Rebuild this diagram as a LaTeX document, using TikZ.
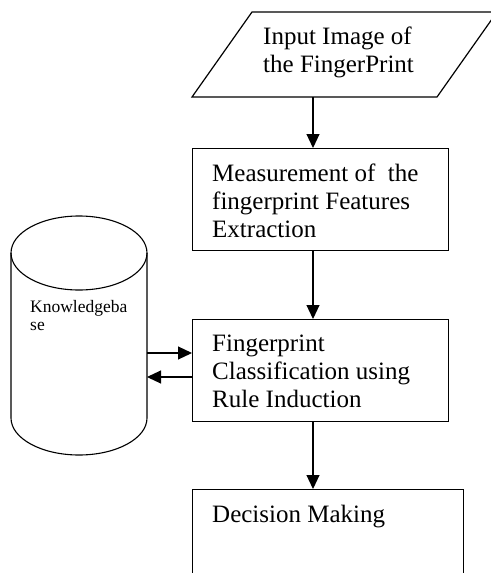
\documentclass[tikz,border=0pt]{standalone}
\usepackage{fontspec}
\setmainfont{Liberation Serif}
\usetikzlibrary{positioning, arrows.meta, calc}

\begin{document}
\begin{tikzpicture}[x=1pt, y=-1pt,
    box/.style={draw, line width=1.2pt, anchor=north west, inner sep=0pt},
    boxtext/.style={anchor=base west, align=left, inner sep=0pt, font=\fontsize{25}{28}\selectfont},
    flow/.style={line width=1.1pt, -{Triangle[length=14pt, width=13pt]}}]
    \useasboundingbox (0,0) rectangle (490,573);

    % input of the fingerprint (parallelogram runs off the right edge)
    \draw[line width=1.2pt] (192,97) -- (252,12) -- (497,12) -- (437,97) -- cycle;
    \coordinate (inbase) at (313,97);
    \node[boxtext] (inp) at (263,72) {Input Image of\\the FingerPrint};

    % processing steps (text placed by its last baseline)
    \node[box, minimum width=256pt, minimum height=102pt] (measure) at (192,148) {};
    \node[boxtext] (measuretxt) at (212,237) {Measurement of\ \ the\\fingerprint Features\\Extraction};

    \node[box, minimum width=256pt, minimum height=102pt] (classify) at (192,319) {};
    \node[boxtext] (classifytxt) at (212,407) {Fingerprint\\Classification using\\Rule Induction};

    \node[box, minimum width=271pt, minimum height=110pt] (decide) at (192,489) {};
    \node[boxtext] (decidetxt) at (212,522) {Decision Making};

    % knowledgebase cylinder
    \draw[line width=1.1pt] (11,253) -- (11,418) arc[start angle=180, end angle=0, x radius=68, y radius=37] -- (147,253);
    \draw[line width=1.1pt] (79,253) ellipse[x radius=68, y radius=37];
    \coordinate (kbside) at (147,365);
    \node[anchor=base west, align=left, inner sep=0pt, font=\fontsize{17.5}{18}\selectfont] (kb) at (30,330) {Knowledgeba\\se};

    % connectors
    \draw[flow] (inbase) -- (inbase |- measure.north);
    \draw[flow] (inbase |- measure.south) -- (inbase |- classify.north);
    \draw[flow] (inbase |- classify.south) -- (inbase |- decide.north);
    \draw[flow] ([yshift=12pt]kbside) -- ([yshift=12pt]kbside -| classify.west);
    \draw[flow] ([yshift=-12pt]kbside -| classify.west) -- ([yshift=-12pt]kbside);
\end{tikzpicture}
\end{document}
